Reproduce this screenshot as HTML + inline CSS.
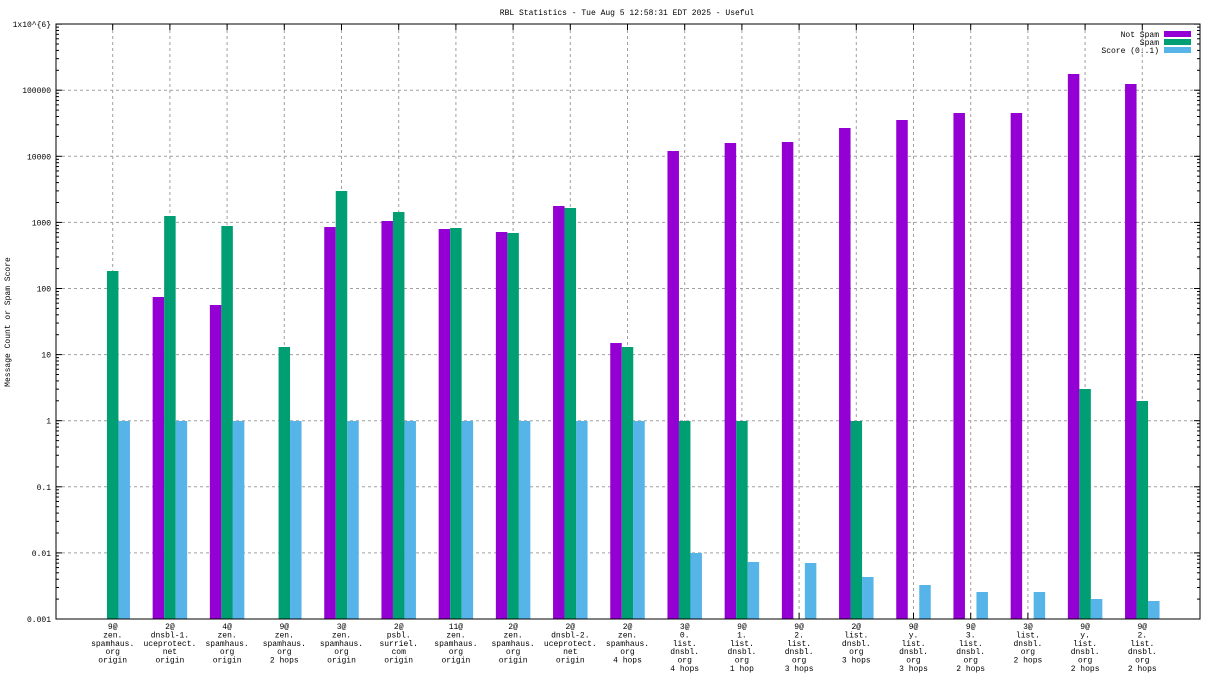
<!DOCTYPE html>
<html><head><meta charset="utf-8"><style>
body{margin:0;background:#fff}
svg text{font-family:"Liberation Mono","DejaVu Sans Mono",monospace;font-size:8px;fill:#000}
</style></head><body>
<svg id="s" width="1216" height="684" xmlns="http://www.w3.org/2000/svg"></svg>
<script>
const s=document.getElementById('s');let h='';
const L=56,R=1200,T=24,B=619,D=66.1;
h+=`<text x="627" y="15" text-anchor="middle">RBL Statistics - Tue Aug  5 12:58:31 EDT 2025 - Useful</text>`;
h+=`<text transform="translate(10,322) rotate(-90)" text-anchor="middle">Message Count or Spam Score</text>`;
const labs=["0.001","0.01","0.1","1","10","100","1000","10000","100000","1x10^{6}"];
for(let i=0;i<10;i++){const y=B-D*i;
 if(i>0&&i<9)h+=`<line x1="${L}" x2="${R}" y1="${y}" y2="${y}" stroke="#a0a0a0" stroke-dasharray="3,3"/>`;
 h+=`<text x="51" y="${y+3}" text-anchor="end">${labs[i]}</text>`;
 h+=`<line x1="${L}" x2="${L+6}" y1="${y}" y2="${y}" stroke="#000"/><line x1="${R}" x2="${R-6}" y1="${y}" y2="${y}" stroke="#000"/>`;
 if(i<9)for(let k=2;k<10;k++){const yy=y-D*Math.log10(k);h+=`<line x1="${L}" x2="${L+3}" y1="${yy}" y2="${yy}" stroke="#000"/><line x1="${R}" x2="${R-3}" y1="${yy}" y2="${yy}" stroke="#000"/>`;}
}
const g=[["9@","zen.","spamhaus.","org","origin"],["2@","dnsbl-1.","uceprotect.","net","origin"],["4@","zen.","spamhaus.","org","origin"],["9@","zen.","spamhaus.","org","2 hops"],["3@","zen.","spamhaus.","org","origin"],["2@","psbl.","surriel.","com","origin"],["11@","zen.","spamhaus.","org","origin"],["2@","zen.","spamhaus.","org","origin"],["2@","dnsbl-2.","uceprotect.","net","origin"],["2@","zen.","spamhaus.","org","4 hops"],["3@","0.","list.","dnsbl.","org","4 hops"],["9@","1.","list.","dnsbl.","org","1 hop"],["9@","2.","list.","dnsbl.","org","3 hops"],["2@","list.","dnsbl.","org","3 hops"],["9@","y.","list.","dnsbl.","org","3 hops"],["9@","3.","list.","dnsbl.","org","2 hops"],["3@","list.","dnsbl.","org","2 hops"],["9@","y.","list.","dnsbl.","org","2 hops"],["9@","2.","list.","dnsbl.","org","2 hops"]];
const d=[[0,271,421],[297,216,421],[305,226,421],[0,347,421],[227,191,421],[221,212,421],[229,228,421],[232,233,421],[206,208,421],[343,347,421],[151,421,553],[143,421,562],[142,0,563],[128,421,577],[120,0,585],[113,0,592],[113,0,592],[74,389,599],[84,401,601]];
const C=["#9400d3","#009e73","#56b4e9"],w=11.5;
for(let i=0;i<19;i++){const c=112.7+i*57.2;
 h+=`<line x1="${c}" x2="${c}" y1="${T}" y2="${B}" stroke="#a0a0a0" stroke-dasharray="3,3"/>`;
 h+=`<line x1="${c}" x2="${c}" y1="${T}" y2="${T+6}" stroke="#000"/><line x1="${c}" x2="${c}" y1="${B}" y2="${B-6}" stroke="#000"/>`;
 for(let j=0;j<3;j++){const t=d[i][j];if(!t)continue;const x=c-w*1.5+j*w;h+=`<rect x="${x}" y="${t}" width="${w}" height="${B-t}" fill="${C[j]}"/>`;}
 g[i].forEach((l,k)=>{h+=`<text x="${c}" y="${629+k*8.4}" text-anchor="middle">${l}</text>`});
}
h+=`<rect x="${L}" y="${T}" width="${R-L}" height="${B-T}" fill="none" stroke="#000"/>`;
const lg=[["Not Spam",34],["Spam",42],["Score (0..1)",50]];
lg.forEach((a,j)=>{h+=`<text x="1159" y="${a[1]+3}" text-anchor="end">${a[0]}</text><rect x="1164" y="${a[1]-3}" width="27" height="6" fill="${C[j]}"/>`});
s.innerHTML=h;
</script>
</body></html>
